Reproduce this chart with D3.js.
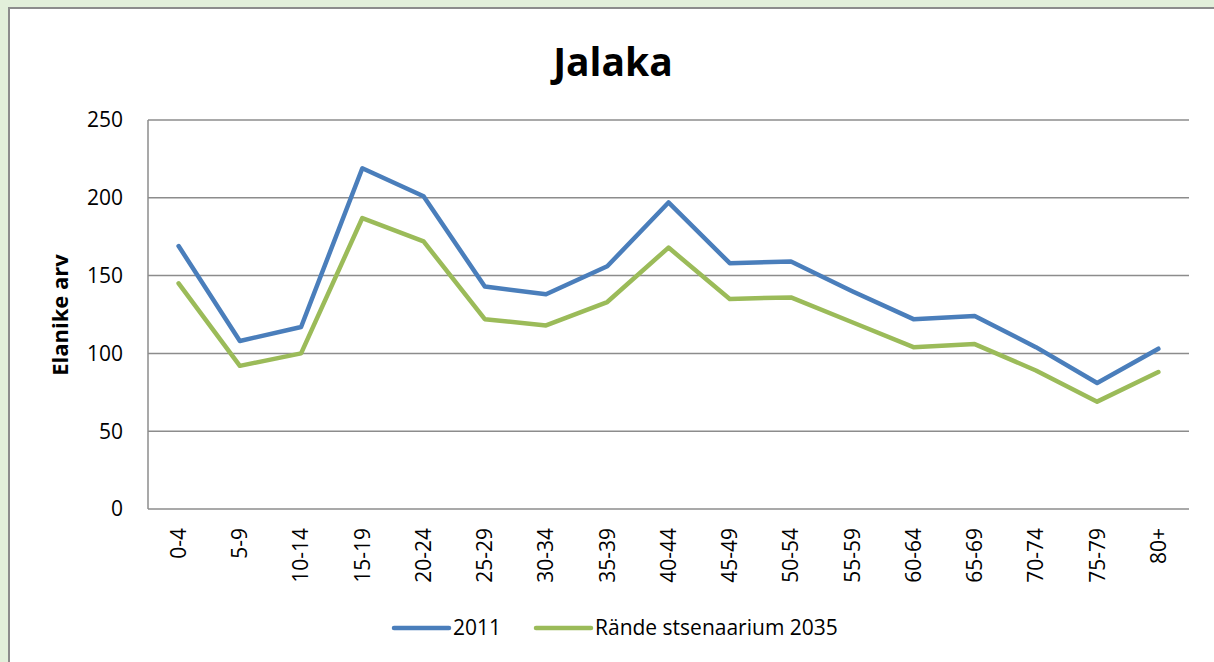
<html>
<head>
  <meta charset="utf-8">
  <script src="https://d3js.org/d3.v7.min.js"></script>
  <style>
    body { margin: 0; background: #e2efda; }
    svg { display: block; font-family: "Open Sans", "Liberation Sans", sans-serif; }
  </style>
</head>
<body>
<script>
var ageGroups = ['0-4','5-9','10-14','15-19','20-24','25-29','30-34','35-39','40-44','45-49','50-54','55-59','60-64','65-69','70-74','75-79','80+'];
var pop2011 = [169,108,117,219,201,143,138,156,197,158,159,140,122,124,104,81,103];
var pop2035 = [145,92,100,187,172,122,118,133,168,135,136,120,104,106,89,69,88];
var yTicks = [0,50,100,150,200,250];
var seriesNames = ['2011', 'Rände stsenaarium 2035'];
var colors = ['#4a7ebb', '#9bbb59'];

var width = 1214, height = 662;
var plotLeft = 148, plotRight = 1189, plotTop = 120, plotBottom = 509;

var svg = d3.select('body').append('svg')
  .attr('width', width)
  .attr('height', height);

// white chart panel
svg.append('rect')
  .attr('x', 9).attr('y', 8)
  .attr('width', width + 20).attr('height', height + 20)
  .attr('fill', '#fff')
  .attr('stroke', '#8c8c8c')
  .attr('stroke-width', 2);

var x = d3.scalePoint().domain(ageGroups).range([plotLeft, plotRight]).padding(0.5);
var y = d3.scaleLinear().domain([0, 250]).range([plotBottom, plotTop]);

// gridlines
svg.append('g')
  .selectAll('line')
  .data(yTicks)
  .enter().append('line')
  .attr('x1', plotLeft).attr('x2', plotRight)
  .attr('y1', function(d){ return y(d); })
  .attr('y2', function(d){ return y(d); })
  .attr('stroke', '#8c8c8c')
  .attr('stroke-width', 1.5);

svg.append('line')
  .attr('x1', plotLeft).attr('x2', plotLeft)
  .attr('y1', plotTop).attr('y2', plotBottom)
  .attr('stroke', '#8c8c8c')
  .attr('stroke-width', 1.5);

// y tick labels
svg.append('g')
  .selectAll('text')
  .data(yTicks)
  .enter().append('text')
  .attr('x', 123)
  .attr('y', function(d){ return y(d); })
  .attr('dy', '0.35em')
  .attr('text-anchor', 'end')
  .attr('font-size', 21)
  .text(function(d){ return d; });

// x tick labels, rotated
svg.append('g')
  .selectAll('text')
  .data(ageGroups)
  .enter().append('text')
  .attr('transform', function(d){ return 'translate(' + x(d) + ',' + 528 + ') rotate(-90)'; })
  .attr('dy', '0.35em')
  .attr('text-anchor', 'end')
  .attr('font-size', 21)
  .text(function(d){ return d; });

// title
svg.append('text')
  .attr('x', 613).attr('y', 76)
  .attr('text-anchor', 'middle')
  .attr('font-size', 39)
  .attr('font-weight', 'bold')
  .text('Jalaka');

// y axis title
svg.append('text')
  .attr('transform', 'translate(60,315) rotate(-90)')
  .attr('dy', '0.35em')
  .attr('text-anchor', 'middle')
  .attr('font-size', 22)
  .attr('font-weight', 'bold')
  .text('Elanike arv');

var line = d3.line()
  .x(function(d, i){ return x(ageGroups[i]); })
  .y(function(d){ return y(d); });

[pop2011, pop2035].forEach(function(s, i){
  svg.append('path')
    .datum(s)
    .attr('fill', 'none')
    .attr('stroke', colors[i])
    .attr('stroke-width', 4.5)
    .attr('stroke-linejoin', 'round')
    .attr('stroke-linecap', 'round')
    .attr('d', line);
});

// legend
var legendX = [394, 536];
seriesNames.forEach(function(name, i){
  var g = svg.append('g').attr('transform', 'translate(' + legendX[i] + ',628)');
  g.append('line')
    .attr('x1', 0).attr('x2', 55)
    .attr('stroke', colors[i])
    .attr('stroke-width', 4.5)
    .attr('stroke-linecap', 'round');
  g.append('text')
    .attr('x', 59)
    .attr('dy', '0.35em')
    .attr('font-size', 21)
    .text(name);
});
</script>
</body>
</html>
